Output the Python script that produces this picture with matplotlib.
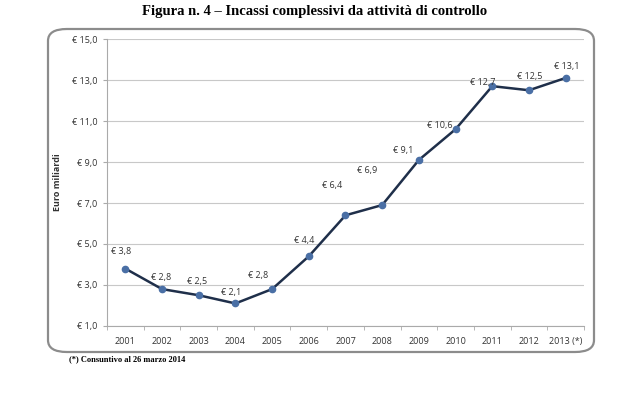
import matplotlib
matplotlib.use("Agg")
import matplotlib.pyplot as plt
from matplotlib.patches import FancyBboxPatch

# data
years = ["2001", "2002", "2003", "2004", "2005", "2006", "2007",
         "2008", "2009", "2010", "2011", "2012", "2013 (*)"]
incassi = [3.8, 2.8, 2.5, 2.1, 2.8, 4.4, 6.4, 6.9, 9.1, 10.6, 12.7, 12.5, 13.1]
yticks = [1, 3, 5, 7, 9, 11, 13, 15]

# label offsets in pixels (dx, dy) relative to each point
offs = [(-4, 17), (-1, 12), (-2, 14), (-4, 11), (-14, 14), (-5, 16), (-13, 30),
        (-15, 35), (-16, 9), (-16, 4), (-10, 4), (1, 14), (1, 11)]

plt.rcParams['font.family'] = ['Open Sans', 'DejaVu Sans']

fig = plt.figure(figsize=(6.3, 3.94), dpi=100)
ax = fig.add_axes([0.1698, 0.1726, 0.927 - 0.1698, 0.901 - 0.1726])

# rounded frame around the chart
box = FancyBboxPatch((48 / 630, 1 - 352 / 394), (594 - 48) / 630, (352 - 29) / 394,
                     boxstyle="round,pad=0,rounding_size=0.03",
                     transform=fig.transFigure, fill=False,
                     edgecolor="#8c8c8c", linewidth=1.6, zorder=0)
fig.patches.append(box)

x = list(range(len(years)))
ax.plot(x, incassi, color="#1f2f4a", linewidth=1.8, marker="o",
        markersize=4.5, markerfacecolor="#4a6fa5", markeredgecolor="#4a6fa5", zorder=3)

for i, v in enumerate(incassi):
    lab = "€ " + f"{v:.1f}".replace(".", ",")
    dx, dy = offs[i]
    ax.annotate(lab, (i, v), xytext=(dx * 0.72, dy * 0.72), textcoords="offset points",
                ha="center", va="center", fontsize=6.5, color="#333333")

ax.set_xlim(-0.5, len(years) - 0.5)
ax.set_ylim(1, 15)
ax.set_yticks(yticks)
ax.set_yticklabels(["€ " + f"{t:.1f}".replace(".", ",") for t in yticks],
                   fontsize=6.5, color="#333333")
ax.set_xticks(x)
ax.set_xticklabels(years, fontsize=6.5, color="#333333")
ax.set_xticks([i - 0.5 for i in range(len(years) + 1)], minor=True)
ax.tick_params(axis="x", which="major", length=0, pad=8)
ax.tick_params(axis="x", which="minor", length=3, color="#aaaaaa")
ax.tick_params(axis="y", length=3, color="#aaaaaa", pad=4)

ax.grid(axis="y", color="#c8c8c8", linewidth=0.8)
ax.set_axisbelow(True)
for s in ["top", "right"]:
    ax.spines[s].set_visible(False)
ax.spines["left"].set_color("#aaaaaa")
ax.spines["bottom"].set_color("#aaaaaa")

ax.set_ylabel("Euro miliardi", fontsize=6.5, fontweight="bold", color="#333333")
ax.yaxis.set_label_coords(-0.094, 0.5)

fig.text(0.5, 1 - 12 / 394, "Figura n. 4 – Incassi complessivi da attività di controllo",
         ha="center", va="center", fontsize=10.5, fontweight="bold",
         family="Liberation Serif")
fig.text(69 / 630, 1 - 359 / 394, "(*) Consuntivo al 26 marzo 2014",
         ha="left", va="center", fontsize=6, fontweight="bold",
         family="Liberation Serif")

fig.savefig("out.png", dpi=100)
